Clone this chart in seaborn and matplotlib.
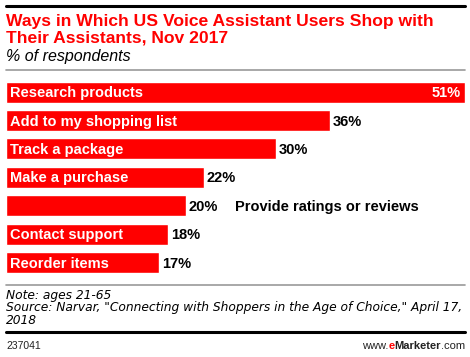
import matplotlib
matplotlib.use("Agg")
import pandas as pd
import seaborn as sns
from matplotlib import pyplot as plt
from matplotlib.lines import Line2D

# data
answers = ['Research products', 'Add to my shopping list', 'Track a package',
           'Make a purchase', 'Provide ratings or reviews', 'Contact support',
           'Reorder items']
percent = [51, 36, 30, 22, 20, 18, 17]

df = pd.DataFrame({'answer': answers, 'percent': percent})

W, H = 470, 357
sns.set_theme(style='white')
plt.rcParams['font.family'] = ['Liberation Sans', 'DejaVu Sans']

fig = plt.figure(figsize=(W / 100, H / 100), dpi=100)
fig.patch.set_facecolor('white')

def fx(px):
    return px / W

def fy(py):
    return 1 - py / H

# bar area
top_px, bot_px = 78, 276.75
ax = fig.add_axes([fx(6), fy(bot_px), fx(465) - fx(6), (bot_px - top_px) / H])
sns.barplot(data=df, y='answer', x='percent', color='#ff0000', saturation=1,
            width=0.74, ax=ax, orient='h')
ax.set_xlim(0, 51)
ax.set_ylim(6.5, -0.5)
ax.axis('off')

RED = '#ff0000'
bold = dict(fontweight='bold', fontsize=10.5, va='baseline')
off = 0.18  # baseline offset below bar centre
for i, (a, v) in enumerate(zip(answers, percent)):
    if a == 'Provide ratings or reviews':
        ax.text(25.4, i + off, a, color='black', ha='left', **bold)
    else:
        ax.text(0.4, i + off, a, color='white', ha='left', **bold)
    if v == max(percent):
        ax.text(v - 0.45, i + off, f'{v}%', color='white', ha='right', **bold)
    else:
        ax.text(v + 0.3, i + off, f'{v}%', color='black', ha='left', **bold)

# header
fig.add_artist(Line2D([fx(6), fx(465)], [fy(6)] * 2, color='black', lw=2.2))
fig.text(fx(6), fy(26), 'Ways in Which US Voice Assistant Users Shop with',
         color=RED, fontsize=12.6, fontweight='bold', va='baseline', ha='left')
fig.text(fx(6), fy(42.5), 'Their Assistants, Nov 2017',
         color=RED, fontsize=12.6, fontweight='bold', va='baseline', ha='left')
fig.text(fx(6), fy(60.5), '% of respondents', fontsize=11.5, style='italic',
         va='baseline', ha='left', color='black')
fig.add_artist(Line2D([fx(6), fx(465)], [fy(70)] * 2, color='#999999', lw=1.2))

# footer
fig.add_artist(Line2D([fx(6), fx(465)], [fy(285)] * 2, color='#999999', lw=1.2))
note_kw = dict(fontsize=8.8, style='italic', va='baseline', ha='left',
               color='black', family=['DejaVu Sans'])
fig.text(fx(6), fy(299.5), 'Note: ages 21-65', **note_kw)
fig.text(fx(6), fy(311.5), 'Source: Narvar, "Connecting with Shoppers in the Age of Choice," April 17,', **note_kw)
fig.text(fx(6), fy(323.5), '2018', **note_kw)
fig.add_artist(Line2D([fx(6), fx(465)], [fy(332)] * 2, color='black', lw=2.2))
fig.text(fx(6), fy(349), '237041', fontsize=7.5, va='baseline', ha='left', color='#222222')

# www.eMarketer.com, built right to left
renderer = fig.canvas.get_renderer()
pieces = [('.com', 'normal', '#222222'), ('Marketer', 'bold', '#222222'),
          ('e', 'bold', RED), ('www.', 'normal', '#222222')]
x = fx(465)
for txt, wt, col in pieces:
    t = fig.text(x, fy(349), txt, fontsize=8, fontweight=wt, color=col,
                 va='baseline', ha='right')
    bb = t.get_window_extent(renderer)
    x -= bb.width / W

fig.savefig('out.png', dpi=100, facecolor='white')
